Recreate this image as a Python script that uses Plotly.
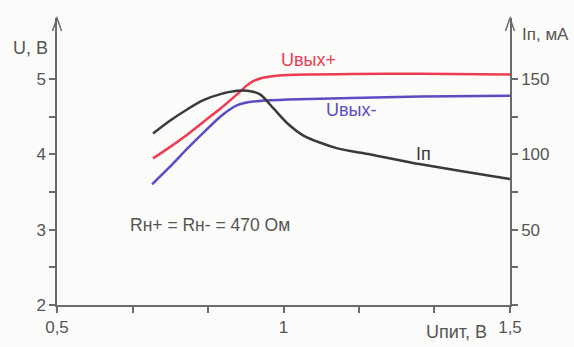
import plotly.graph_objects as go

# ---- data ----
u_pit_plus = [0.712, 0.750, 0.788, 0.825, 0.861, 0.898, 0.918, 0.934, 0.952, 0.971, 1.009, 1.15, 1.303, 1.5]
u_out_plus = [3.947, 4.10, 4.265, 4.44, 4.609, 4.80, 4.91, 4.975, 5.015, 5.035, 5.055, 5.068, 5.07, 5.06]

u_pit_minus = [0.710, 0.750, 0.788, 0.825, 0.861, 0.882, 0.898, 0.916, 0.934, 0.971, 1.009, 1.15, 1.303, 1.5]
u_out_minus = [3.603, 3.84, 4.079, 4.30, 4.503, 4.60, 4.655, 4.685, 4.702, 4.718, 4.728, 4.75, 4.768, 4.78]

u_pit_i = [0.712, 0.750, 0.788, 0.823, 0.861, 0.898, 0.927, 0.949, 0.978, 1.009, 1.044, 1.119, 1.192, 1.303, 1.5]
i_p = [113.9, 122.5, 130.0, 136.0, 140.0, 142.2, 142.0, 139.7, 130.5, 120.5, 112.5, 104.0, 100.0, 93.4, 83.6]

x_tickvals = [0.5, 0.6667, 0.8333, 1.0, 1.1667, 1.3333, 1.5]
x_ticktext = ["0,5", "", "", "1", "", "", "1,5"]
yl_tickvals = [2, 2.5, 3, 3.5, 4, 4.5, 5]
yl_ticktext = ["2", "", "3", "", "4", "", "5"]
yr_tickvals = [0, 25, 50, 75, 100, 125, 150]
yr_ticktext = ["", "", "50", "", "100", "", "150"]

RED = "#ee3b52"
BLUE = "#5a4cc4"
BLACK = "#3a3a3a"
AXIS = "#6a6a6a"
TXT = "#555555"
FONT = "Liberation Sans, Arial, sans-serif"

W, H = 574, 347
L, R, T, B = 57, 64, 18, 42
pw, ph = W - L - R, H - T - B

fig = go.Figure()
fig.add_trace(go.Scatter(x=u_pit_plus, y=u_out_plus, mode="lines",
                         line=dict(color=RED, width=2.5, shape="spline", smoothing=0.5)))
fig.add_trace(go.Scatter(x=u_pit_minus, y=u_out_minus, mode="lines",
                         line=dict(color=BLUE, width=2.5, shape="spline", smoothing=0.5)))
fig.add_trace(go.Scatter(x=u_pit_i, y=i_p, mode="lines", yaxis="y2",
                         line=dict(color=BLACK, width=2.5, shape="spline", smoothing=0.8)))

ytop = 2 + ph / 75.3
axis_common = dict(showgrid=False, zeroline=False, showline=True, linecolor=AXIS, linewidth=1.5,
                   ticks="outside", ticklen=6, tickcolor=AXIS, tickwidth=1.5,
                   tickfont=dict(size=17, color=TXT), automargin=False)
fig.update_layout(
    width=W, height=H,
    margin=dict(l=L, r=R, t=T, b=B, autoexpand=False),
    paper_bgcolor="#fbfbf9", plot_bgcolor="#fbfbf9",
    showlegend=False,
    font=dict(family=FONT, size=17, color=TXT),
    xaxis=dict(range=[0.5, 1.5], tickvals=x_tickvals, ticktext=x_ticktext, **axis_common),
    yaxis=dict(range=[2, ytop], tickvals=yl_tickvals, ticktext=yl_ticktext, **axis_common),
    yaxis2=dict(range=[0, (ytop - 2) * 50], tickvals=yr_tickvals, ticktext=yr_ticktext,
                overlaying="y", side="right", anchor="x", **axis_common),
)

# arrow heads on the vertical axes (open V)
ax_w = 4.5 / pw
ax_h = 13 / ph
for xp in (0, 1):
    fig.add_shape(type="path", xref="paper", yref="paper",
                  path=f"M {xp - ax_w} {1 - ax_h} L {xp} 1 L {xp + ax_w} {1 - ax_h}",
                  line=dict(color=AXIS, width=1.5))

def ann(text, x, y, color=TXT, xref="x", yref="y", xanchor="center", size=18):
    fig.add_annotation(text=text, x=x, y=y, xref=xref, yref=yref, showarrow=False,
                       xanchor=xanchor, yanchor="middle",
                       font=dict(family=FONT, size=size, color=color))

ann("Uвых+", 1.056, 5.254, RED)
ann("Uвых-", 1.149, 4.59, BLUE)
ann("Iп", 1.308, 4.0, BLACK)
ann("Rн+ = Rн- = 470 Ом", 0.838, 3.06, TXT, size=17.5)
ann("U, B", (30 - L) / pw, (H - B - 48) / ph, TXT, xref="paper", yref="paper")
ann("Iп, мА", (520 - L) / pw, (H - B - 35) / ph, TXT, xref="paper", yref="paper", xanchor="left", size=17)
ann("Uпит, B", (456 - L) / pw, (H - B - 332) / ph, TXT, xref="paper", yref="paper")

fig.write_html("out.html", config={"displayModeBar": False},
               post_script="document.body.style.margin='0';document.body.style.overflow='hidden';")
